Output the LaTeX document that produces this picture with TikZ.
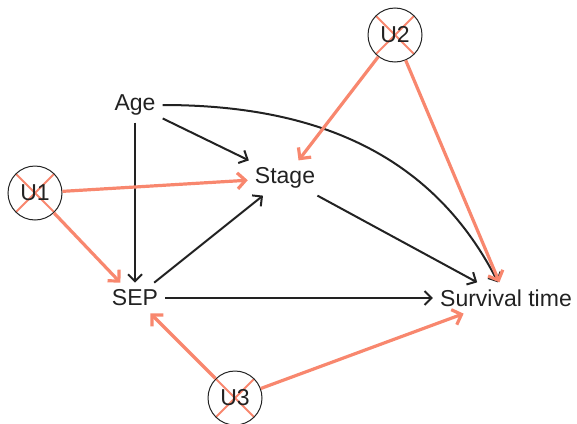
\documentclass[tikz,border=0pt]{standalone}
\usepackage{fontspec}
\setmainfont{Liberation Sans}
\usetikzlibrary{arrows.meta}
\definecolor{salmon}{HTML}{F8876E}
\definecolor{ink}{HTML}{222222}
\begin{document}
\begin{tikzpicture}[x=1pt,y=1pt,
    font=\fontsize{23}{27}\selectfont,
    var/.style={text=ink,inner sep=7pt},
    hidden/.style={circle,draw=ink,line width=1pt,minimum size=54pt,inner sep=0pt,text=ink,
      path picture={\draw[salmon,line width=2pt]
        (path picture bounding box.north west) -- (path picture bounding box.south east)
        (path picture bounding box.north east) -- (path picture bounding box.south west);}},
    causal/.style={draw=ink,line width=2pt,-{Straight Barb[length=7pt,width=14pt]}},
    confound/.style={draw=salmon,line width=3.2pt,-{Straight Barb[length=8pt,width=16pt]}}]
  \useasboundingbox (0,0) rectangle (577,-423);
  \node[var] at (135,-105) (age) {Age};
  \node[var] at (285,-178) (stage) {Stage};
  \node[var] at (135,-298) (sep) {SEP};
  \node[var] at (506,-298) (surv) {Survival time};
  \node[hidden] at (35,-193) (u1) {U1};
  \node[hidden] at (395,-35) (u2) {U2};
  \node[hidden] at (235,-398) (u3) {U3};
  % measured paths
  \draw[causal] (age) -- (stage);
  \draw[causal] (age) -- (sep);
  \draw[causal] (sep) -- (stage);
  \draw[causal] (stage) -- (surv);
  \draw[causal] (sep) -- (surv);
  \draw[causal] (age) to[out=0,in=117] (surv.117);
  % unmeasured confounders
  \draw[confound] (u1) -- (stage);
  \draw[confound] (u1) -- (sep);
  \draw[confound] (u2) -- (stage);
  \draw[confound] (u2) -- (surv);
  \draw[confound] (u3) -- (sep);
  \draw[confound] (u3) -- (surv);
\end{tikzpicture}
\end{document}
